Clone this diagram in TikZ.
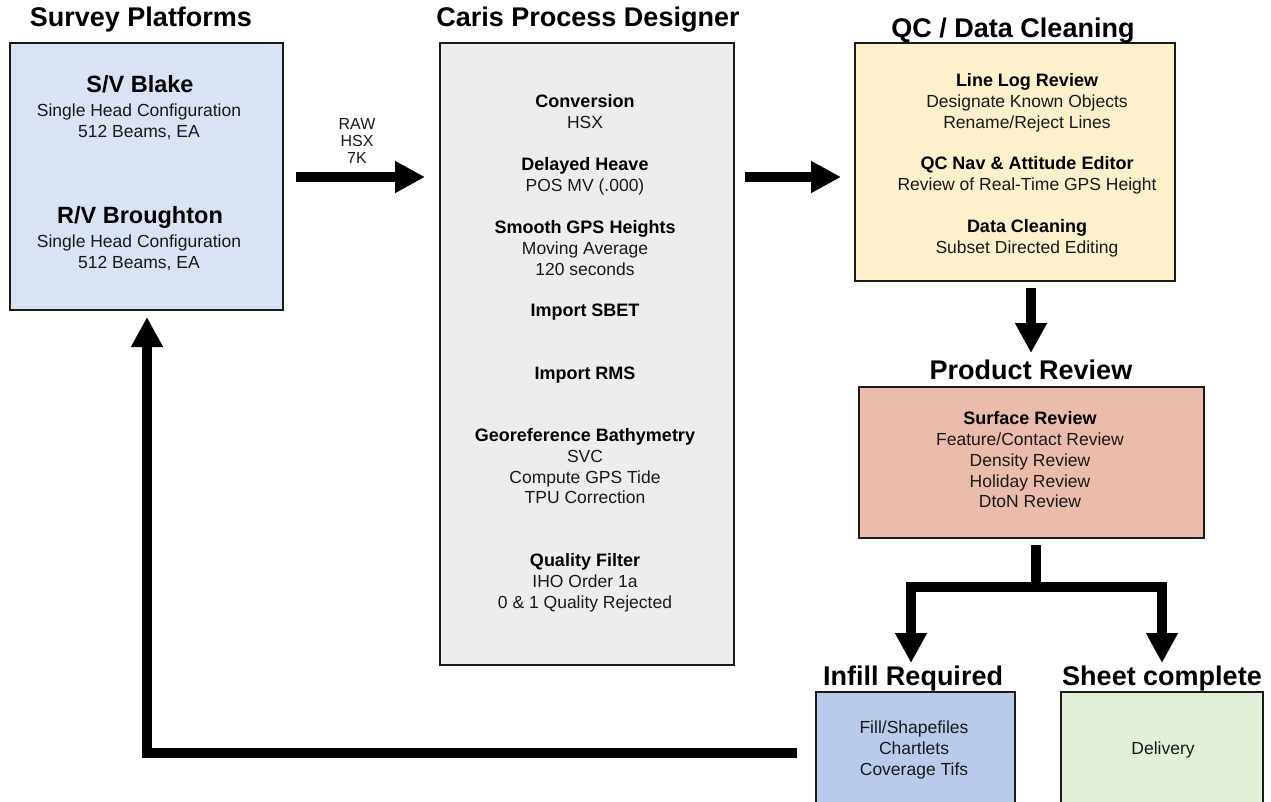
\documentclass[tikz,border=0pt]{standalone}
\usepackage{fontspec}
\setmainfont{Liberation Sans}
\usetikzlibrary{arrows.meta}
\definecolor{cblue}{HTML}{DAE3F3}
\definecolor{cgrey}{HTML}{EDEDED}
\definecolor{cyellow}{HTML}{FDF0CA}
\definecolor{csalmon}{HTML}{EBBBAB}
\definecolor{cblue2}{HTML}{B9CAEA}
\definecolor{cgreen}{HTML}{E2EFD9}
\definecolor{bordergrey}{HTML}{1A1A1A}
\tikzset{
  x=1pt, y=-1pt,
  box/.style={draw=bordergrey, line width=1.6pt, inner sep=0pt},
  even/.style={text height=0.72em, text depth=0pt, yshift=-3pt},
  title/.style={font=\fontsize{27}{30}\selectfont\bfseries, inner sep=0pt, anchor=center, even, yshift=-1pt},
  head/.style={font=\fontsize{18}{21}\selectfont\bfseries, inner sep=0pt, even},
  bhead/.style={font=\fontsize{23.5}{27}\selectfont\bfseries, inner sep=0pt, even},
  body/.style={font=\fontsize{17.5}{20}\selectfont, inner sep=0pt, text=black!90, even},
  small/.style={font=\fontsize{16}{17}\selectfont, inner sep=0pt, align=center, text=black!90},
  bigarrow/.style={line width=9.5pt, -{Triangle[width=30pt,length=30pt]}},
  bigline/.style={line width=9.5pt},
}
\begin{document}
\begin{tikzpicture}
\useasboundingbox (0,0) rectangle (1271,801);
% boxes
\node[box, fill=cblue, minimum width=273pt, minimum height=267pt] (platforms) at (146.5,176.5) {};
\node[box, fill=cgrey, minimum width=294pt, minimum height=622pt] (caris) at (587,354) {};
\node[box, fill=cyellow, minimum width=320pt, minimum height=238pt] (qc) at (1015,162) {};
\node[box, fill=csalmon, minimum width=345pt, minimum height=151pt] (product) at (1031.5,462.5) {};
\node[box, fill=cblue2, minimum width=199pt, minimum height=120pt] (infill) at (915.5,752) {};
\node[box, fill=cgreen, minimum width=202pt, minimum height=120pt] (sheet) at (1162,752) {};
% titles
\node[title] (t1) at (141,19) {Survey Platforms};
\node[title] (t2) at (588,19) {Caris Process Designer};
\node[title] (t3) at (1013,30) {QC / Data Cleaning};
\node[title] (t4) at (1031,372) {Product Review};
\node[title] (t5) at (913,678) {Infill Required};
\node[title] (t6) at (1162,678) {Sheet complete};
% platforms text
\node[bhead] (p1) at (140,86) {S/V Blake};
\node[body] (p2) at (139,110) {Single Head Configuration};
\node[body] (p3) at (139,131) {512 Beams, EA};
\node[bhead] (p4) at (140,217) {R/V Broughton};
\node[body] (p5) at (139,241) {Single Head Configuration};
\node[body] (p6) at (139,262) {512 Beams, EA};
% caris text
\node[head] (c1) at (585,101) {Conversion};
\node[body] (c2) at (585,122) {HSX};
\node[head] (c3) at (585,164) {Delayed Heave};
\node[body] (c4) at (585,185) {POS MV (.000)};
\node[head] (c5) at (585,227) {Smooth GPS Heights};
\node[body] (c6) at (585,248) {Moving Average};
\node[body] (c7) at (585,269) {120 seconds};
\node[head] (c8) at (585,310) {Import SBET};
\node[head] (c9) at (585,373) {Import RMS};
\node[head] (c10) at (585,435) {Georeference Bathymetry};
\node[body] (c11) at (585,456) {SVC};
\node[body] (c12) at (585,477) {Compute GPS Tide};
\node[body] (c13) at (585,497) {TPU Correction};
\node[head] (c14) at (585,560) {Quality Filter};
\node[body] (c15) at (585,581) {IHO Order 1a};
\node[body] (c16) at (585,602) {0 \& 1 Quality Rejected};
% qc text
\node[head] (q1) at (1027,80) {Line Log Review};
\node[body] (q2) at (1027,101) {Designate Known Objects};
\node[body] (q3) at (1027,122) {Rename/Reject Lines};
\node[head] (q4) at (1027,163) {QC Nav \& Attitude Editor};
\node[body] (q5) at (1027,184) {Review of Real-Time GPS Height};
\node[head] (q6) at (1027,226) {Data Cleaning};
\node[body] (q7) at (1027,247) {Subset Directed Editing};
% product text
\node[head] (r1) at (1030,418) {Surface Review};
\node[body] (r2) at (1030,439) {Feature/Contact Review};
\node[body] (r3) at (1030,460) {Density Review};
\node[body] (r4) at (1030,481) {Holiday Review};
\node[body] (r5) at (1030,501) {DtoN Review};
% infill / sheet text
\node[body] (i1) at (914,727) {Fill/Shapefiles};
\node[body] (i2) at (914,748) {Chartlets};
\node[body] (i3) at (914,769) {Coverage Tifs};
\node[body] (s1) at (1163,748) {Delivery};
% arrow label
\node[small] (lbl) at (357,141) {RAW\\HSX\\7K};
% connector coordinates
\coordinate (a1s) at (296,177);
\coordinate (a1e) at (425,177);
\coordinate (a2s) at (745,177);
\coordinate (a2e) at (841,177);
\coordinate (a3s) at (1031,288);
\coordinate (a3e) at (1031,353);
\coordinate (bs) at (1036,545);
\coordinate (bj) at (1036,587);
\coordinate (bl) at (911,587);
\coordinate (br) at (1162,587);
\coordinate (ble) at (911,663);
\coordinate (bre) at (1162,663);
\coordinate (rs) at (797,753);
\coordinate (rc) at (147,753);
\coordinate (re) at (147,317);
% connectors
\draw[bigarrow] (a1s) -- (a1e);
\draw[bigarrow] (a2s) -- (a2e);
\draw[bigarrow] (a3s) -- (a3e);
\draw[bigline] (bs) -- ([yshift=4.75pt]bj);
\draw[bigarrow] ([xshift=4.75pt]bl) -- (bl) -- (ble);
\draw[bigarrow] ([xshift=-4.75pt]br) -- (br) -- (bre);
\draw[bigline] (bl) -- (br);
\draw[bigarrow] (rs) -- (rc) -- (re);
\end{tikzpicture}
\end{document}
